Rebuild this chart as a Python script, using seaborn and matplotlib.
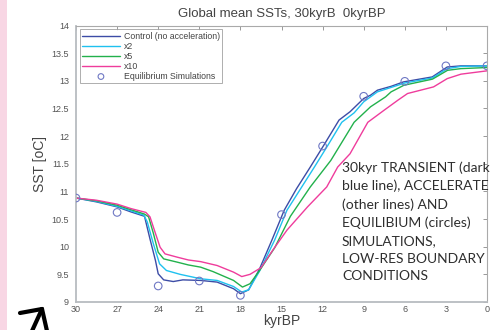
import matplotlib
matplotlib.use("Agg")
import matplotlib.pyplot as plt
import seaborn as sns
import pandas as pd
from matplotlib.lines import Line2D
from matplotlib.patches import Rectangle

# ---- data ----
ctrl_kyr = [30, 28.5, 27, 26, 25.0, 24.6, 24.2, 24.0, 23.6, 22.9, 22.2, 20.9, 19.7, 18.5, 18.0, 17.4,
            16.6, 15.7, 14.8, 13.9, 12.9, 11.9, 10.8, 10.0, 9.0, 8.5, 8.0, 7.0, 6.1, 4.0, 2.9, 1.9, 0]
ctrl_sst = [10.88, 10.81, 10.72, 10.63, 10.55, 10.14, 9.75, 9.51, 9.40, 9.37, 9.40, 9.39, 9.36, 9.24, 9.15, 9.22,
            9.60, 10.12, 10.66, 11.05, 11.44, 11.84, 12.29, 12.44, 12.68, 12.74, 12.83, 12.90, 12.98, 13.07, 13.25, 13.27, 13.27]

x2_kyr = [30, 28.5, 27, 26, 25.05, 24.8, 24.35, 23.9, 23.4, 22.4, 20.9, 19.7, 18.5, 17.9, 17.4, 16.6,
          15.5, 14.6, 13.6, 12.6, 11.6, 10.6, 9.7, 9.0, 8.0, 7.0, 6.0, 4.0, 2.9, 1.9, 0]
x2_sst = [10.88, 10.82, 10.73, 10.65, 10.57, 10.45, 10.05, 9.69, 9.57, 9.50, 9.42, 9.39, 9.28, 9.18, 9.22, 9.56,
          10.12, 10.66, 11.05, 11.44, 11.84, 12.25, 12.42, 12.62, 12.80, 12.88, 12.96, 13.05, 13.22, 13.26, 13.27]

x5_kyr = [30, 28.5, 27, 26, 25.0, 24.7, 24.35, 24.0, 23.6, 22.6, 21.8, 20.9, 20.0, 18.5, 17.85, 17.3, 16.6,
          15.5, 14.35, 12.9, 11.4, 9.7, 8.5, 7.4, 7.0, 6.06, 3.98, 2.88, 1.91, 0]
x5_sst = [10.88, 10.83, 10.75, 10.67, 10.59, 10.54, 10.24, 9.90, 9.78, 9.72, 9.67, 9.63, 9.55, 9.39, 9.27, 9.33, 9.57,
          9.98, 10.55, 11.08, 11.56, 12.25, 12.53, 12.71, 12.80, 12.92, 13.03, 13.19, 13.22, 13.24]

x10_kyr = [30, 28.5, 27, 26, 24.9, 24.6, 24.2, 23.86, 23.5, 22.6, 21.8, 20.9, 19.7, 18.5, 17.9, 17.3, 16.5,
           15.6, 14.6, 13.1, 11.7, 10.9, 10.0, 8.7, 7.5, 6.5, 5.8, 3.9, 2.9, 1.9, 0]
x10_sst = [10.88, 10.84, 10.77, 10.69, 10.62, 10.54, 10.24, 9.99, 9.87, 9.81, 9.76, 9.73, 9.66, 9.54, 9.46, 9.50, 9.62,
           9.95, 10.30, 10.72, 11.08, 11.44, 11.68, 12.25, 12.47, 12.65, 12.77, 12.89, 13.04, 13.12, 13.18]

eq_kyr = [30, 27, 24, 21, 18, 15, 12, 9, 6, 3, 0]
eq_sst = [10.88, 10.62, 9.29, 9.38, 9.12, 10.58, 11.82, 12.72, 12.99, 13.27, 13.27]

labels = ["Control (no acceleration)", "x2", "x5", "x10"]
colors = ["#3c4ca6", "#1fc1ef", "#22b14c", "#ef3c9c"]
x_ticks = [30, 27, 24, 21, 18, 15, 12, 9, 6, 3, 0]
y_ticks = [9, 9.5, 10, 10.5, 11, 11.5, 12, 12.5, 13, 13.5, 14]
y_ticklabels = ["9", "9.5", "10", "10.5", "11", "11.5", "12", "12.5", "13", "13.5", "14"]

series = [(ctrl_kyr, ctrl_sst), (x2_kyr, x2_sst), (x5_kyr, x5_sst), (x10_kyr, x10_sst)]
frames = []
for lab, (k, s) in zip(labels, series):
    frames.append(pd.DataFrame({"kyr": k, "sst": s, "run": lab}))
df = pd.concat(frames, ignore_index=True)
eq = pd.DataFrame({"kyr": eq_kyr, "sst": eq_sst})

sns.set_style("white")
plt.rcParams["font.family"] = ["Liberation Sans", "DejaVu Sans"]

fig = plt.figure(figsize=(4.95, 3.3), dpi=100)
fig.patch.set_facecolor("white")
# pink strip on the left
fig.add_artist(Rectangle((0, 0), 7 / 495, 1, transform=fig.transFigure,
                         facecolor="#f8d6e4", edgecolor="none"))

ax = fig.add_axes([76 / 495, 1 - 302 / 330, (487 - 76) / 495, (302 - 25.5) / 330])

for lab, col in zip(labels, colors):
    sub = df[df["run"] == lab]
    sns.lineplot(data=sub, x="kyr", y="sst", color=col, lw=1.0, ax=ax,
                 estimator=None, label=lab, sort=True)
sns.scatterplot(data=eq, x="kyr", y="sst", ax=ax, marker="o", s=30,
                facecolors="none", edgecolor="#6f78c4", linewidth=0.8,
                label="Equilibrium Simulations", zorder=5)

ax.set_xlim(30, 0)
ax.set_ylim(9, 14)
ax.set_xticks(x_ticks)
ax.set_xticklabels([str(t) for t in x_ticks])
ax.set_yticks(y_ticks)
ax.set_yticklabels(y_ticklabels)
ax.grid(False)
ax.tick_params(direction="in", length=3, width=0.6, colors="#888888",
               labelcolor="#555555", labelsize=6.5, top=True, right=True)
ax.tick_params(axis="y", pad=5)
ax.tick_params(axis="x", pad=2)
for sp in ax.spines.values():
    sp.set_visible(True)
    sp.set_color("#aaaaaa")
    sp.set_linewidth(0.8)
ax.spines["left"].set_color("#b8bcc0")
ax.spines["left"].set_linewidth(1.3)
ax.spines["bottom"].set_color("#b8bcc0")
ax.spines["bottom"].set_linewidth(1.3)

ax.set_xlabel("kyrBP", fontsize=10, color="#444444", labelpad=0)
ax.set_ylabel("SST [oC]", fontsize=10, color="#444444", labelpad=3)
ax.set_title("Global mean SSTs, 30kyrB  0kyrBP", fontsize=9.5, color="#444444", pad=6)

leg = ax.legend(loc="upper left", fontsize=6.3, frameon=True, fancybox=False,
                borderpad=0.25, labelspacing=0.12, handlelength=4.3, handletextpad=0.5,
                borderaxespad=0.45, markerscale=0.75)
leg.get_frame().set_edgecolor("#999999")
leg.get_frame().set_linewidth(0.7)
for t in leg.get_texts():
    t.set_color("#444444")

note = ("30kyr TRANSIENT (dark\nblue line), ACCELERATE\n(other lines) AND\n"
        "EQUILIBIUM (circles)\nSIMULATIONS,\nLOW-RES BOUNDARY\nCONDITIONS")
fig.text(342 / 495, 1 - 161 / 330, note, family=["Lato", "DejaVu Sans"], fontsize=10,
         color="#2e2e2e", va="top", ha="left", linespacing=1.57)

# hand-drawn arrow at bottom-left
arrow_pts = [((20, 313), (42, 309)), ((42, 309), (32, 331)), ((42, 309), (47, 331))]
for (xa, ya), (xb, yb) in arrow_pts:
    fig.add_artist(Line2D([xa / 495, xb / 495], [1 - ya / 330, 1 - yb / 330],
                          transform=fig.transFigure, color="black", lw=3,
                          solid_capstyle="round"))

fig.savefig("out.png", dpi=100)
